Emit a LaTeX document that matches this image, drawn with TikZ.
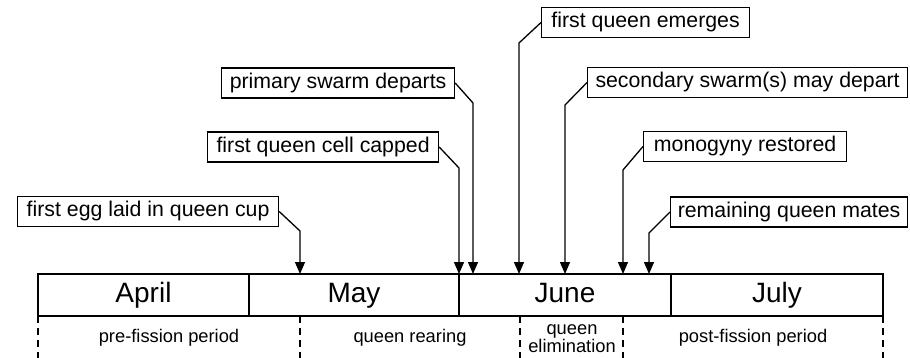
\documentclass[tikz,border=0pt]{standalone}
\usepackage{fontspec}
\setmainfont{Liberation Sans}
\usetikzlibrary{arrows.meta}
\begin{document}
\begin{tikzpicture}[x=1pt,y=-1pt,
  evbox/.style={draw,line width=1.2pt,inner xsep=0pt,inner ysep=0pt,minimum height=30pt,text height=15.5pt,text depth=4.5pt,anchor=west,font=\fontsize{21.3}{25}\selectfont},
  conn/.style={line width=1.3pt,-{Triangle[length=12pt,width=10pt]}},
  month/.style={font=\fontsize{28}{32}\selectfont,text height=20pt,text depth=6pt},
  period/.style={font=\fontsize{18.3}{15}\selectfont,align=center},
  sep/.style={line width=1.2pt,dash pattern=on 7pt off 5pt}]
\useasboundingbox (0,0) rectangle (910,358);
% timeline bar
\draw[line width=1.8pt] (38,274) rectangle (883,316);
\draw[line width=1.8pt] (249,274) -- (249,316);
\draw[line width=1.8pt] (459,274) -- (459,316);
\draw[line width=1.8pt] (671,274) -- (671,316);
\node[month] (apr) at (143.5,295) {April};
\node[month] (may) at (354,295) {May};
\node[month] (jun) at (565,295) {June};
\node[month] (jul) at (777,295) {July};
% arrow targets on the bar
\coordinate (t1) at (300,274);
\coordinate (t2) at (459,274);
\coordinate (t3) at (473,274);
\coordinate (t4) at (519,274);
\coordinate (t5) at (565,274);
\coordinate (t6) at (623,274);
\coordinate (t7) at (649,274);
% event boxes
\node[evbox,minimum width=261pt] (egg) at (17,211.5) {first egg laid in queen cup};
\node[evbox,minimum width=231pt] (cap) at (207,147) {first queen cell capped};
\node[evbox,minimum width=233pt] (pri) at (221,83) {primary swarm departs};
\node[evbox,minimum width=208pt] (emg) at (541,22.5) {first queen emerges};
\node[evbox,minimum width=320pt] (sec) at (587,82.5) {secondary swarm(s) may depart};
\node[evbox,minimum width=203pt] (mon) at (643,146.5) {monogyny restored};
\node[evbox,minimum width=237pt] (mat) at (670,212) {remaining queen mates};
% connectors
\draw[conn] (egg.east) -- (300,231) -- (t1);
\draw[conn] (cap.east) -- (459,168) -- (t2);
\draw[conn] (pri.east) -- (473,103) -- (t3);
\draw[conn] (emg.west) -- (519,43) -- (t4);
\draw[conn] (sec.west) -- (565,105) -- (t5);
\draw[conn] (mon.west) -- (623,170) -- (t6);
\draw[conn] (mat.west) -- (649,233) -- (t7);
% period separators
\foreach \x in {38,300,520,623,883} \draw[sep] (\x,316) -- (\x,358);
\node[period] (p1) at (169,338) {pre-fission period};
\node[period] (p2) at (410,338) {queen rearing};
\node[period] (p3) at (572,338.5) {queen\\elimination};
\node[period] (p4) at (753,338) {post-fission period};
\end{tikzpicture}
\end{document}
